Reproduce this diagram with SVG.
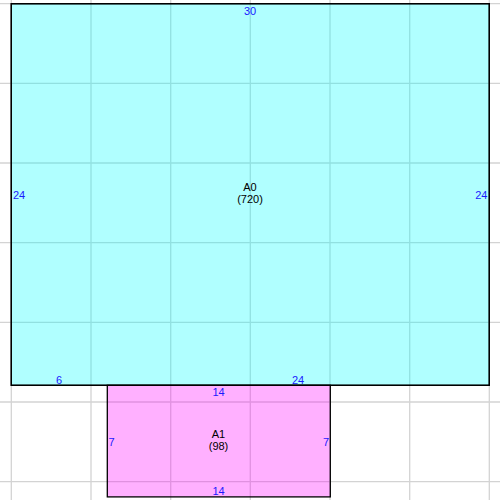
<svg xmlns="http://www.w3.org/2000/svg" width="500" height="500" viewBox="0 0 500 500">
<style>
.grid line{stroke:#d3d3d3;stroke-width:1.3}
.box{stroke:#000;stroke-width:1.3}
.dim{font-family:"Liberation Sans",Arial,sans-serif;font-size:11px;fill:#1a1aff}
.lbl{font-family:"Liberation Sans",Arial,sans-serif;font-size:11px;fill:#000;text-anchor:middle}
</style>
<rect width="500" height="500" fill="#fff"/>
<g class="grid">
<line x1="11.3" y1="0" x2="11.3" y2="500"/>
<line x1="91" y1="0" x2="91" y2="500"/>
<line x1="170.7" y1="0" x2="170.7" y2="500"/>
<line x1="250.3" y1="0" x2="250.3" y2="500"/>
<line x1="330" y1="0" x2="330" y2="500"/>
<line x1="409.7" y1="0" x2="409.7" y2="500"/>
<line x1="489.3" y1="0" x2="489.3" y2="500"/>
<line x1="0" y1="3.7" x2="500" y2="3.7"/>
<line x1="0" y1="83.3" x2="500" y2="83.3"/>
<line x1="0" y1="163" x2="500" y2="163"/>
<line x1="0" y1="242.7" x2="500" y2="242.7"/>
<line x1="0" y1="322.3" x2="500" y2="322.3"/>
<line x1="0" y1="402" x2="500" y2="402"/>
<line x1="0" y1="481.7" x2="500" y2="481.7"/>
</g>
<g id="A0">
<rect class="box" x="11.3" y="3.7" width="478" height="381.6" fill="#00ffff" fill-opacity="0.31"/>
<rect x="11.3" y="3.7" width="478" height="381.6" fill="none" stroke="#000" stroke-width="1.3"/>
<text class="dim" x="250" y="14.5" text-anchor="middle">30</text>
<text class="dim" x="13" y="199" text-anchor="start">24</text>
<text class="dim" x="487.5" y="199" text-anchor="end">24</text>
<text class="dim" x="59" y="384" text-anchor="middle">6</text>
<text class="dim" x="298" y="384" text-anchor="middle">24</text>
<text class="lbl" x="250" y="191">A0</text>
<text class="lbl" x="250" y="203">(720)</text>
</g>
<g id="A1">
<rect class="box" x="107.3" y="385.3" width="223" height="111.6" fill="#ff00ff" fill-opacity="0.31"/>
<text class="dim" x="218.5" y="396" text-anchor="middle">14</text>
<text class="dim" x="218.5" y="495" text-anchor="middle">14</text>
<text class="dim" x="108.5" y="446" text-anchor="start">7</text>
<text class="dim" x="329" y="446" text-anchor="end">7</text>
<text class="lbl" x="218.5" y="438">A1</text>
<text class="lbl" x="218.5" y="450">(98)</text>
</g>
</svg>
